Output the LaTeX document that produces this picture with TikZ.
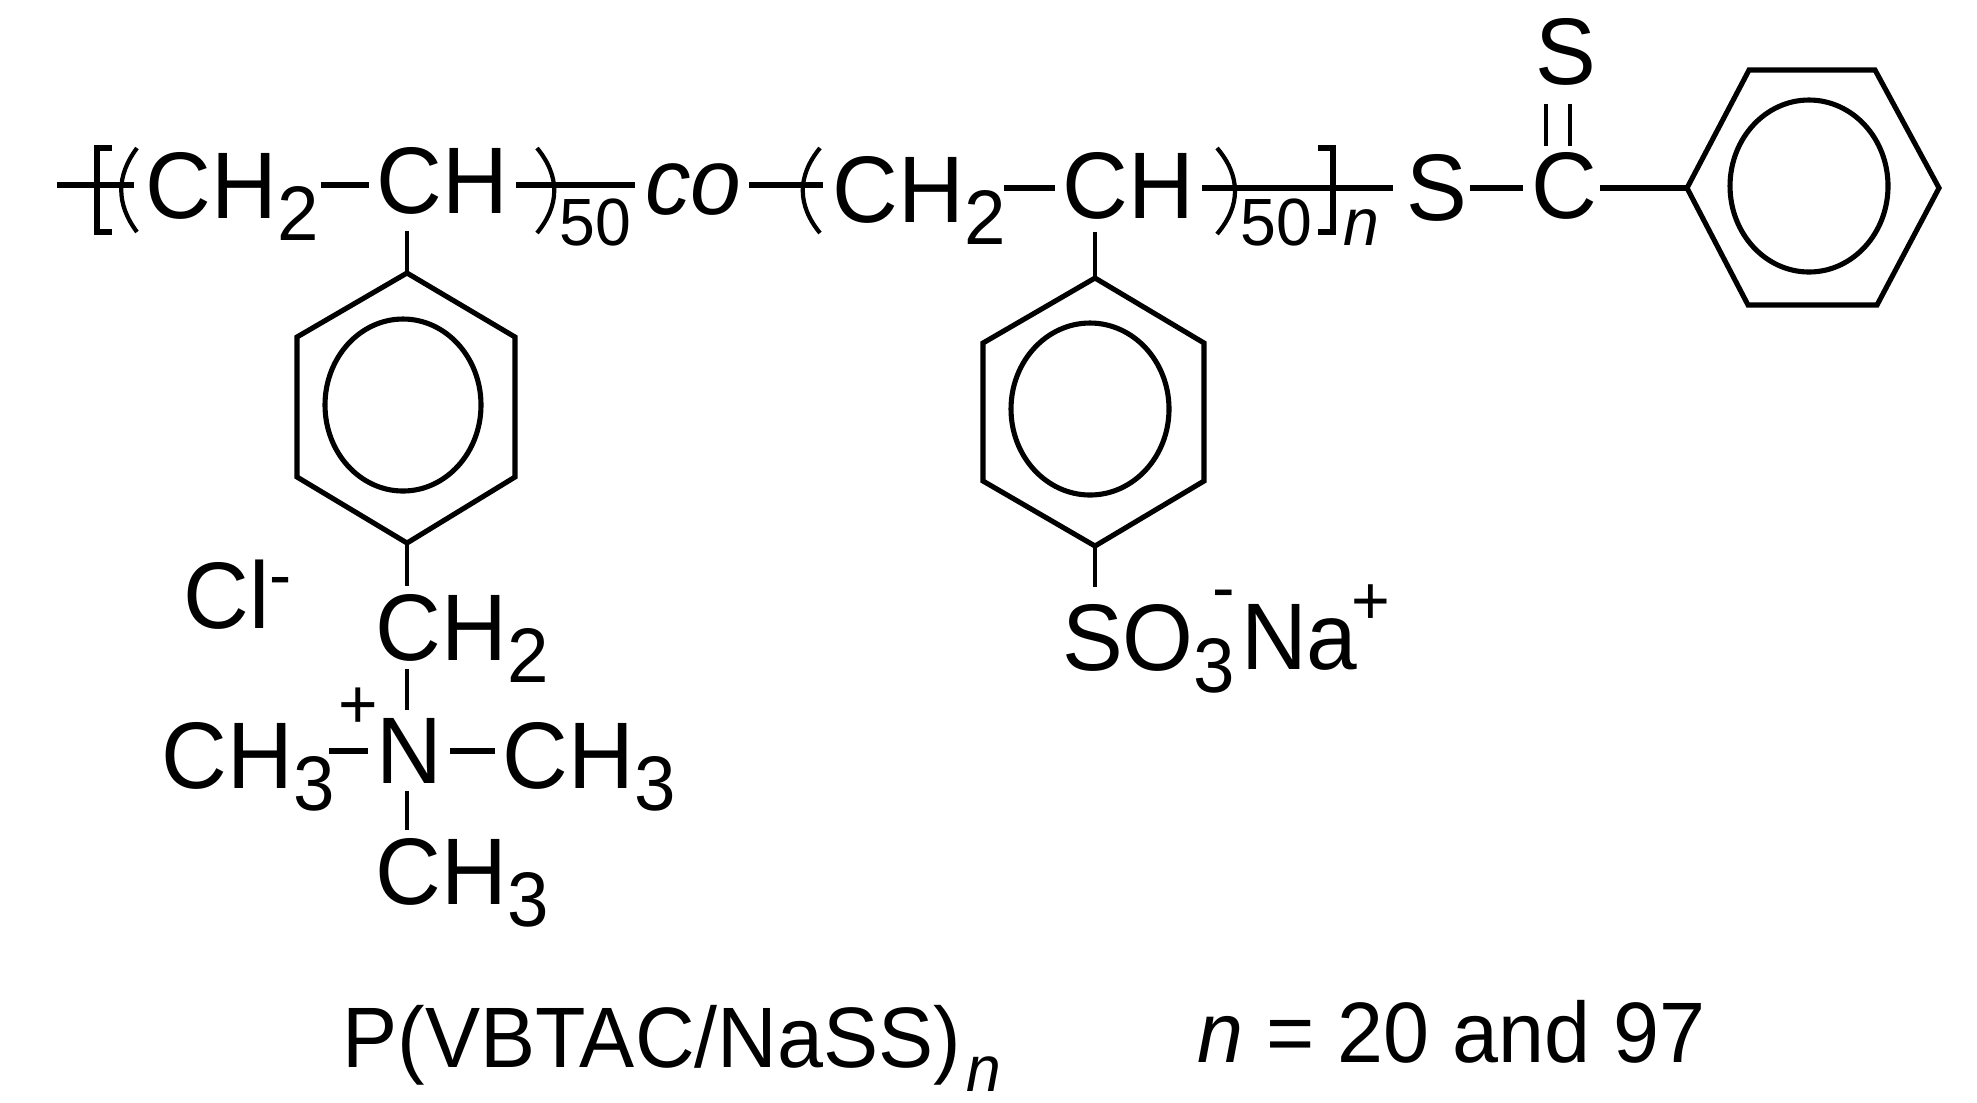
\documentclass[tikz,border=0pt]{standalone}
\usepackage{fontspec}
\setmainfont[FakeStretch=.963]{Liberation Sans}
\newcommand{\lowtext}[2][6.3pt]{\smash{\raisebox{-#1}{\fontsize{22}{26}\selectfont #2}}}
\newcommand{\hightext}[2]{\smash{\raisebox{#1}{\fontsize{19.6}{24}\selectfont #2}}}
\tikzstyle{atom}=[font=\fontsize{26.9}{32}\selectfont,inner sep=0pt,outer sep=.08cm,anchor=base west]
\tikzstyle{small}=[font=\fontsize{19}{23}\selectfont,inner sep=0pt,anchor=base west]
\tikzstyle{charge}=[font=\fontsize{20}{24}\selectfont,inner sep=0pt]
\tikzstyle{caption}=[font=\fontsize{24.4}{29}\selectfont,inner sep=0pt,anchor=base west]
\tikzstyle{bond}=[line width=1.45pt]
\tikzstyle{thinb}=[line width=1.2pt]
\tikzstyle{brk}=[line width=1.8pt]
\begin{document}
\begin{tikzpicture}[x=.01cm,y=-.01cm]
    \useasboundingbox (0,0) rectangle (1977,1102);
    % backbone levels
    \coordinate (bbl) at (0,185);
    \coordinate (bbr) at (0,188);
    \coordinate (end1) at (57,185);
    \coordinate (end2) at (134,185);
    \coordinate (end3) at (635,185);
    \coordinate (end4) at (823,185);
    % backbone text
    \node [style=atom] (ch2a) at (137.5,218) {CH\lowtext{2}};
    \node [style=atom] (cha) at (368.5,213.5) {CH};
    \node [style=small] (fifa) at (559,245) {50};
    \node [style=atom] (co) at (637,214) {\itshape co};
    \node [style=atom] (ch2b) at (824.5,222) {CH\lowtext{2}};
    \node [style=atom] (chb) at (1054.5,218) {CH};
    \node [style=small] (fifb) at (1240,245) {50};
    \node [style=small] (nsub) at (1343,245) {\itshape n};
    \node [style=atom] (sa) at (1398,220) {S};
    \node [style=atom] (cb) at (1523,218) {C};
    \node [style=atom] (sb) at (1527,84) {S};
    % first side group
    \node [style=atom] (cl) at (175.5,628) {Cl\hightext{8.5pt}{-}};
    \node [style=atom] (ch2c) at (367.5,660) {CH\lowtext{2}};
    \node [style=charge] (plus) at (358,708) {+};
    \node [style=atom] (nit) at (368,783) {N};
    \node [style=atom] (mea) at (153.5,788) {CH\lowtext{3}};
    \node [style=atom] (meb) at (494.5,788) {CH\lowtext{3}};
    \node [style=atom] (mec) at (367.5,904) {CH\lowtext{3}};
    % second side group
    \node [style=atom] (so) at (1054,670) {SO\lowtext{3}};
    \node [style=charge] (minus) at (1223.5,601) {-};
    \node [style=atom] (na) at (1233,669) {Na\kern-1.7pt\hightext{12.8pt}{+}};
    % captions
    \node [style=caption] (name) at (342,1067) {P(VBTAC/NaSS)\kern1.5pt\smash{\raisebox{-7pt}{\fontsize{18.4}{22}\selectfont\itshape n}}};
    \node [style=caption] (value) at (1197,1062) {\itshape n\upshape{} = 20 and 97};
    % rings
    \coordinate (a1) at (407,273);
    \coordinate (a2) at (515,337);
    \coordinate (a3) at (515,477);
    \coordinate (a4) at (407,543);
    \coordinate (a5) at (297,477);
    \coordinate (a6) at (297,337);
    \coordinate (b1) at (1095,278);
    \coordinate (b2) at (1204,343);
    \coordinate (b3) at (1204,481);
    \coordinate (b4) at (1095,546);
    \coordinate (b5) at (983,481);
    \coordinate (b6) at (983,343);
    \coordinate (c1) at (1687,188);
    \coordinate (c2) at (1749,70);
    \coordinate (c3) at (1875,70);
    \coordinate (c4) at (1939,188);
    \coordinate (c5) at (1877,305);
    \coordinate (c6) at (1748,305);
    \draw [style=bond] (a1) -- (a2) -- (a3) -- (a4) -- (a5) -- (a6) -- cycle;
    \draw [style=bond] (b1) -- (b2) -- (b3) -- (b4) -- (b5) -- (b6) -- cycle;
    \draw [style=bond] (c1) -- (c2) -- (c3) -- (c4) -- (c5) -- (c6) -- cycle;
    \draw [style=bond] (403,405) ellipse [x radius=78,y radius=86];
    \draw [style=bond] (1090,409) ellipse [x radius=79,y radius=86];
    \draw [style=bond] (1809,186) ellipse [x radius=79,y radius=86];
    % bonds
    \draw [style=bond] (end1) to (end2);
    \draw [style=bond,shorten <=-.06cm] (ch2a.east |- bbl) to (cha.west |- bbl);
    \draw [style=bond] (cha.east |- bbl) to (end3);
    \draw [style=bond] (co.east |- bbl) to (end4);
    \draw [style=bond,shorten <=-.1cm] (ch2b.east |- bbr) to (chb.west |- bbr);
    \draw [style=bond,shorten >=.05cm] (chb.east |- bbr) to (sa.west |- bbr);
    \draw [style=bond,shorten <=-.05cm] (sa.east |- bbr) to (cb.west |- bbr);
    \draw [style=bond,shorten <=-.05cm] (cb.east |- bbr) to (c1);
    \draw [style=thinb,shorten >=.14cm] (1546,146) to (1546,90);
    \draw [style=thinb,shorten >=.14cm] (1570,146) to (1570,90);
    \draw [style=thinb,shorten <=.09cm] (a1 |- cha.south) to (a1);
    \draw [style=thinb] (a4) to (a4 |- ch2c.north);
    \draw [style=thinb,shorten <=.05cm] (b1 |- chb.south) to (b1);
    \draw [style=thinb,shorten >=.09cm] (b4) to (b4 |- so.north);
    \draw [style=thinb] (a4 |- ch2c.south) to (a4 |- nit.north);
    \draw [style=thinb] (a4 |- nit.south) to (a4 |- mec.north);
    \draw [style=bond,shorten <=-.14cm] (mea.east |- 0,751) to (nit.west |- 0,751);
    \draw [style=bond] (nit.east |- 0,751) to (meb.west |- 0,751);
    % brackets and parentheses
    \draw [style=brk] (112,148) -- (97,148) -- (97,232) -- (112,232);
    \draw [style=brk] (1318,148) -- (1333,148) -- (1333,232) -- (1318,232);
    \draw [style=thinb] (137,148) .. controls (116,176) and (116,204) .. (137,232);
    \draw [style=thinb] (537,148) .. controls (560,176) and (560,205) .. (537,233);
    \draw [style=thinb] (820,148) .. controls (797,176) and (797,205) .. (820,233);
    \draw [style=thinb] (1217,148) .. controls (1241,176) and (1241,206) .. (1217,234);
\end{tikzpicture}
\end{document}
